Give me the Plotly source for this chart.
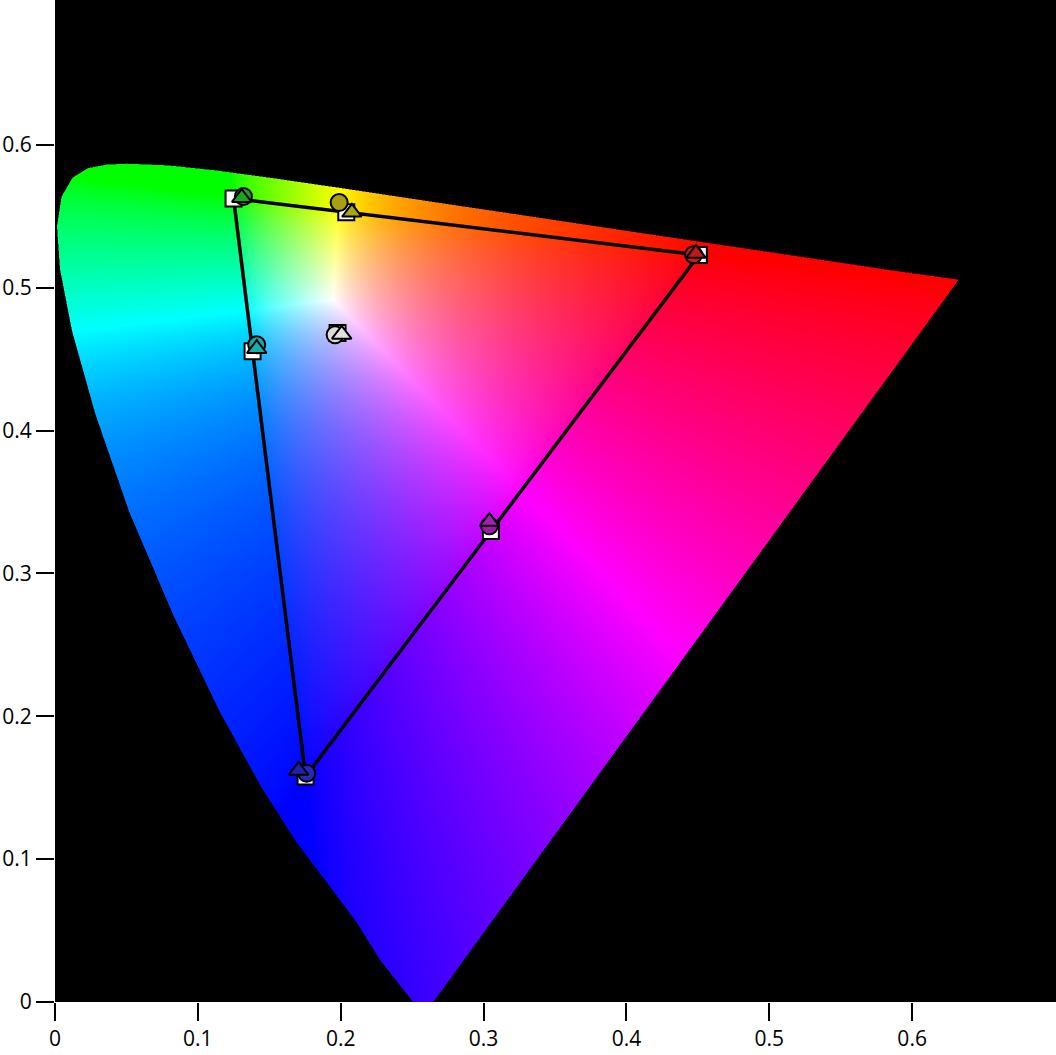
'''CIE 1976 u'v' chromaticity diagram with the sRGB gamut'''
import base64
import struct
import zlib

import numpy as np
import plotly.graph_objects as go

# spectral locus outline (u', v')
locus_u = [0.2507, 0.2276, 0.2110, 0.1877, 0.1690, 0.1441, 0.1147, 0.0828,
           0.0521, 0.0282, 0.0119, 0.0035, 0.0014, 0.0046, 0.0123, 0.0231,
           0.0360, 0.0501, 0.0792, 0.1127, 0.1531, 0.2026, 0.2623, 0.3315,
           0.4035, 0.5203, 0.5830, 0.6326, 0.2647]
locus_v = [0.0000, 0.0294, 0.0560, 0.0871, 0.1119, 0.1510, 0.2044, 0.2708,
           0.3427, 0.4117, 0.4698, 0.5131, 0.5431, 0.5638, 0.5770, 0.5837,
           0.5861, 0.5868, 0.5856, 0.5821, 0.5766, 0.5694, 0.5604, 0.5501,
           0.5393, 0.5219, 0.5125, 0.5056, 0.0000]

# order of the points: R, Y, G, C, B, M, W
# reference (sRGB) points -> white squares
ref_u = [0.4507, 0.2039, 0.1250, 0.1383, 0.1754, 0.3051, 0.1978]
ref_v = [0.5229, 0.5529, 0.5625, 0.4555, 0.1579, 0.3297, 0.4683]

# first measurement -> circles
circ_u = [0.4470, 0.1989, 0.1319, 0.1412, 0.1762, 0.3041, 0.1961]
circ_v = [0.5231, 0.5597, 0.5639, 0.4601, 0.1601, 0.3333, 0.4671]
circ_col = ['#c81e1e', '#a8a010', '#20a020', '#18a8a8', '#2828b0', '#a018a8', '#dcdcdc']

# second measurement -> triangles
tri_u = [0.4487, 0.2078, 0.1307, 0.1412, 0.1705, 0.3041, 0.2007]
tri_v = [0.5240, 0.5528, 0.5630, 0.4573, 0.1621, 0.3363, 0.4673]
tri_col = ['#c01818', '#a8a814', '#18a818', '#14b0b0', '#2020a8', '#a020b0', '#e0e0e0']

tick_vals = [0, 0.1, 0.2, 0.3, 0.4, 0.5, 0.6]
tick_text = ['0', '0.1', '0.2', '0.3', '0.4', '0.5', '0.6']

U_MAX = 0.7007
V_MAX = 0.7014
PIX = 0.0007
GAIN = (1.1, 1.0, 1.5)   # channel balance of the background


def inside(px, py, pu, pv):
    '''even-odd test of points against the polygon'''
    res = np.zeros(px.shape, bool)
    n = len(pu)
    j = n - 1
    with np.errstate(divide='ignore', invalid='ignore'):
        for i in range(n):
            xi, yi, xj, yj = pu[i], pv[i], pu[j], pv[j]
            if yi != yj:
                c = ((yi > py) != (yj > py)) & (px < (xj - xi) * (py - yi) / (yj - yi) + xi)
                res ^= c
            j = i
    return res


def uv_colours(u, v):
    '''u'v' -> display rgb in [0, 1], brightest channel = 1'''
    den = 6 * u - 16 * v + 12
    x = 9 * u / den
    y = 4 * v / den
    X = x / y
    Z = (1 - x - y) / y
    r = (3.2406 * X - 1.5372 - 0.4986 * Z) * GAIN[0]
    g = (-0.9689 * X + 1.8758 + 0.0415 * Z) * GAIN[1]
    b = (0.0557 * X - 0.2040 + 1.0570 * Z) * GAIN[2]
    rgb = np.clip(np.stack([r, g, b], axis=-1), 0, None)
    rgb = rgb / rgb.max(axis=-1, keepdims=True)
    return np.clip(rgb, 0, 1) ** (1 / 1.4)


def png_uri(rgb):
    h, w, _ = rgb.shape
    rows = np.concatenate([np.zeros((h, 1), np.uint8), rgb.reshape(h, w * 3)], axis=1)

    def chunk(tag, data):
        c = struct.pack('>I', len(data)) + tag + data
        return c + struct.pack('>I', zlib.crc32(tag + data) & 0xffffffff)
    png = (b'\x89PNG\r\n\x1a\n'
           + chunk(b'IHDR', struct.pack('>IIBBBBB', w, h, 8, 2, 0, 0, 0))
           + chunk(b'IDAT', zlib.compress(rows.tobytes(), 9))
           + chunk(b'IEND', b''))
    return 'data:image/png;base64,' + base64.b64encode(png).decode()


def diagram_image():
    w = int(round(U_MAX / PIX))
    h = int(round(V_MAX / PIX))
    uc = (np.arange(w) + 0.5) * PIX
    vc = V_MAX - (np.arange(h) + 0.5) * PIX
    U, V = np.meshgrid(uc, vc)
    col = uv_colours(U, V)
    # 2x2 supersampled mask for smooth edges
    alpha = np.zeros((h, w))
    for du in (-0.25, 0.25):
        for dv in (-0.25, 0.25):
            alpha += inside(U + du * PIX, V + dv * PIX, locus_u, locus_v)
    alpha /= 4
    img = (col * alpha[..., None] * 255 + 0.5).astype(np.uint8)
    return png_uri(img)


def main():
    fig = go.Figure()
    fig.add_layout_image(source=diagram_image(), xref='x', yref='y',
                         x=0, y=V_MAX, sizex=U_MAX, sizey=V_MAX,
                         xanchor='left', yanchor='top', sizing='stretch',
                         layer='below')
    order = [0, 1, 2, 3, 4, 5, 0]
    fig.add_trace(go.Scatter(x=[ref_u[i] for i in order], y=[ref_v[i] for i in order],
                             mode='lines', line=dict(color='black', width=3.5)))
    fig.add_trace(go.Scatter(x=ref_u, y=ref_v, mode='markers',
                             marker=dict(symbol='square', size=16, color='white',
                                         line=dict(color='black', width=2))))
    fig.add_trace(go.Scatter(x=circ_u, y=circ_v, mode='markers',
                             marker=dict(symbol='circle', size=17, color=circ_col,
                                         line=dict(color='black', width=2))))
    fig.add_trace(go.Scatter(x=tri_u, y=tri_v, mode='markers',
                             marker=dict(symbol='triangle-up', size=17, color=tri_col,
                                         line=dict(color='black', width=2))))
    axis = dict(showgrid=False, zeroline=False, showline=False,
                ticks='outside', ticklen=18, tickwidth=2, tickcolor='black',
                tickvals=tick_vals, ticktext=tick_text,
                tickfont=dict(family='Open Sans', size=21, color='black'))
    fig.update_xaxes(range=[0, U_MAX], **axis)
    fig.update_yaxes(range=[0, V_MAX], **axis)
    fig.update_layout(width=1056, height=1055, showlegend=False,
                      margin=dict(l=55, r=0, t=0, b=53),
                      paper_bgcolor='white', plot_bgcolor='black')
    fig.write_html('out.html', config={'displayModeBar': False},
                   post_script="document.body.style.margin = '0';")


if __name__ == '__main__':
    main()
